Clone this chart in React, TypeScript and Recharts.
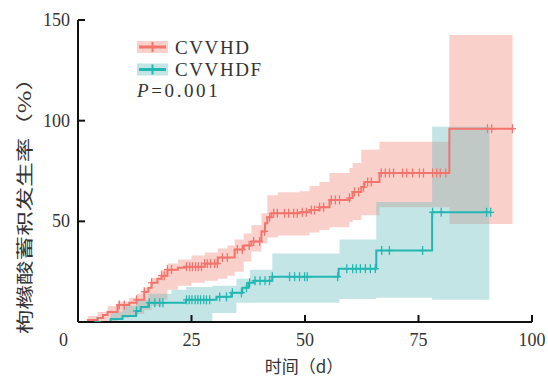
import React from "react"
import { ComposedChart, Area, Line, Scatter, XAxis, YAxis, Label } from "recharts"

// CVVHD: step curve, censor times, confidence band
const redStepX = [0, 2.2, 4.3, 5.5, 6.5, 8.7, 11.3, 12.9, 14.6, 15.5, 16.2, 17.5, 18.4, 19.7, 22, 23.5, 27.9, 30.8, 34.5, 36.5, 38.2, 40.4, 41.2, 41.7, 42.6, 48.8, 51, 53.2, 55.4, 59.8, 60.5, 62.4, 63.1, 66.4, 81.8, 95.7]
const redStepY = [0, 1, 2, 3.5, 5, 8.5, 9.5, 11, 15, 17, 19.5, 21.5, 23, 26, 27, 27.5, 29, 32, 36, 38, 40, 45, 49, 52, 54, 54.5, 55.6, 57, 60.6, 61.6, 64.6, 67, 69.5, 74, 96, 96]
const redCensor = [9.1, 10.2, 12.9, 14.6, 16.2, 18.4, 19, 19.7, 20.6, 23.9, 24.6, 25.2, 25.9, 26.5, 27.2, 27.9, 28.5, 29.2, 30.1, 30.7, 31.8, 32.9, 35.1, 36.2, 37.7, 38.7, 40, 41.1, 42.2, 43.1, 43.9, 45.5, 46.4, 47.5, 48.3, 49.4, 50.3, 51.4, 52.1, 53.2, 54.1, 55.8, 56.7, 57.6, 59.8, 60.9, 61.8, 62.9, 63.8, 64.6, 66.8, 67.7, 68.6, 69.5, 71.5, 72.4, 73.7, 75.2, 76.1, 78.1, 79, 79.8, 81, 90.2, 91.1, 95.7]
const redBandX = [0, 2.2, 4.3, 6.5, 8.7, 11.3, 12.9, 14.6, 16.2, 18.4, 19.7, 22, 25, 27.9, 30.8, 32.9, 34.5, 36.5, 38.2, 40.4, 41.7, 44, 48.8, 51, 53.2, 55.4, 59.8, 60.5, 62.4, 66.4, 81.8, 95.7]
const redBandLo = [0, 0, 0, 0.5, 2, 3, 4, 6, 8, 11, 16, 18, 19.5, 20.5, 21.5, 23, 25, 30, 35, 39, 42, 43, 43, 44.5, 45.7, 47, 49.7, 50.7, 53, 57, 48.7, 48.7]
const redBandHi = [0, 3, 5, 8, 10, 12, 14, 17, 22, 26, 29, 31, 33, 34.5, 36.5, 38, 41, 44, 48, 54, 63, 64.5, 65, 67.5, 69.5, 74, 76.5, 79, 85.5, 89.5, 142.6, 142.6]

// CVVHDF
const tealStepX = [0, 7.2, 9.8, 12.8, 13.8, 15.5, 23.8, 30.5, 33.8, 36.2, 37.5, 38.8, 42.8, 57.4, 65.7, 78, 90.6]
const tealStepY = [0, 1.5, 3, 5.5, 7.5, 9.5, 11, 12.5, 14.5, 17, 19.5, 20.5, 22.5, 26.5, 35.5, 54.5, 54.5]
const tealCensor = [4.3, 12.9, 15.7, 16.9, 18, 18.7, 23.9, 24.5, 25.1, 25.8, 26.4, 27, 27.7, 28.3, 29, 31.2, 32.7, 34, 36, 37.1, 37.8, 39, 40.1, 41.2, 42.2, 42.8, 46.6, 47.7, 48.8, 49.9, 50.5, 57.2, 59.2, 60.5, 61.3, 62.2, 63.3, 64.4, 65.5, 66.9, 68.6, 75.9, 78.1, 80, 90, 90.9]
const tealBandX = [0, 7.2, 9.8, 12.8, 15.5, 20.6, 23.8, 29.6, 34.9, 37.9, 42.8, 57.6, 65.7, 78, 90.6]
const tealBandLo = [0, 0, 0, 0.5, 0.5, 0.5, 0.5, 4.5, 9.5, 9.5, 9.5, 11.4, 12, 11, 11]
const tealBandHi = [0, 5, 8, 11, 14, 16, 17.4, 18, 21.5, 26, 34, 41, 59.6, 97, 97]

const xTicks = [0, 25, 50, 75, 100]
const yTicks = [50, 100, 150]

const RED = "#F3746C"
const RED_FILL = "#FAD0CB"
const TEAL = "#22B7B2"
const TEAL_FILL = "#6CBEC1"
const SERIF = "'Liberation Serif', 'Times New Roman', serif"
const CJK = "'Noto Sans CJK SC', sans-serif"

// value of a step curve at time t (last step at or before t)
function stepAt(xs: number[], ys: number[], t: number) {
  let v = ys[0]
  for (let i = 0; i < xs.length; i++) if (xs[i] <= t) v = ys[i]
  return v
}

const redLine = redStepX.map((x, i) => ({ x, y: redStepY[i] }))
const tealLine = tealStepX.map((x, i) => ({ x, y: tealStepY[i] }))
const redBand = redBandX.map((x, i) => ({ x, band: [redBandLo[i], redBandHi[i]] }))
const tealBand = tealBandX.map((x, i) => ({ x, band: [tealBandLo[i], tealBandHi[i]] }))
const redMarks = redCensor.map((x) => ({ x, y: stepAt(redStepX, redStepY, x) }))
const tealMarks = tealCensor.map((x) => ({ x, y: stepAt(tealStepX, tealStepY, x) }))

const plus = (color: string) => (p: any) => (
  <g stroke={color} strokeWidth={1.3}>
    <line x1={p.cx - 3.5} y1={p.cy} x2={p.cx + 3.5} y2={p.cy} />
    <line x1={p.cx} y1={p.cy - 4.5} x2={p.cx} y2={p.cy + 4.5} />
  </g>
)

const XTick = ({ x, y, payload }: any) => (
  <g>
    <line x1={x} y1={y} x2={x} y2={y - 7} stroke="#111" strokeWidth={2} />
    <text x={payload.value === 0 ? x - 14.5 : x} y={y + 24} textAnchor="middle" fontSize={18} fontFamily={SERIF} fill="#333">
      {payload.value}
    </text>
  </g>
)

const YTick = ({ x, y, payload }: any) => (
  <g>
    <line x1={x} y1={y} x2={x + 7} y2={y} stroke="#111" strokeWidth={2} />
    <text x={x - 8} y={y + 6} textAnchor="end" fontSize={18} fontFamily={SERIF} fill="#333">
      {payload.value}
    </text>
  </g>
)

const YTitle = () => (
  <text
    transform="translate(31,200) rotate(-90)"
    textAnchor="middle"
    fontSize={17}
    fontFamily={CJK}
    fill="#333"
    textLength={268}
    lengthAdjust="spacingAndGlyphs"
  >
    枸橼酸蓄积发生率（%）
  </text>
)

const XTitle = () => (
  <text x={304} y={373} textAnchor="middle" fontSize={17} fontFamily={CJK} fill="#333">
    时间（d）
  </text>
)

function LegendKey({ y, color, fill }: { y: number; color: string; fill: string }) {
  return (
    <g>
      <rect x={137} y={y - 6} width={31} height={12} fill={fill} />
      <line x1={139} y1={y} x2={166} y2={y} stroke={color} strokeWidth={3} />
      <line x1={152.5} y1={y - 5} x2={152.5} y2={y + 5} stroke={color} strokeWidth={2} />
    </g>
  )
}

export default function App() {
  return (
    <div style={{ position: "absolute", left: 0, top: 0, width: 548, height: 378, background: "#fff" }}>
      <ComposedChart width={548} height={378} margin={{ top: 20, right: 16, bottom: 0, left: 0 }}>
        <XAxis
          type="number"
          dataKey="x"
          domain={[0, 100]}
          ticks={xTicks}
          interval={0}
          height={56}
          tickSize={0}
          tickMargin={0}
          tickLine={false}
          tick={<XTick />}
          axisLine={{ stroke: "#111", strokeWidth: 2 }}
          allowDataOverflow
        >
          <Label content={<XTitle />} />
        </XAxis>
        <YAxis
          type="number"
          domain={[0, 150]}
          ticks={yTicks}
          interval={0}
          width={78}
          tickSize={0}
          tickMargin={0}
          tickLine={false}
          tick={<YTick />}
          axisLine={{ stroke: "#111", strokeWidth: 2 }}
          allowDataOverflow
        >
          <Label content={<YTitle />} />
        </YAxis>
        <Area data={redBand} dataKey="band" type="stepAfter" stroke="none" fill={RED_FILL} fillOpacity={1} isAnimationActive={false} />
        <Area data={tealBand} dataKey="band" type="stepAfter" stroke="none" fill={TEAL_FILL} fillOpacity={0.4} isAnimationActive={false} />
        <Line data={redLine} dataKey="y" type="stepAfter" stroke={RED} strokeWidth={2} dot={false} isAnimationActive={false} />
        <Line data={tealLine} dataKey="y" type="stepAfter" stroke={TEAL} strokeWidth={2} dot={false} isAnimationActive={false} />
        <Scatter data={redMarks} dataKey="y" shape={plus(RED)} isAnimationActive={false} />
        <Scatter data={tealMarks} dataKey="y" shape={plus(TEAL)} isAnimationActive={false} />
      </ComposedChart>
      <svg width={548} height={378} style={{ position: "absolute", left: 0, top: 0, pointerEvents: "none" }}>
        <LegendKey y={47} color={RED} fill={RED_FILL} />
        <LegendKey y={69.5} color={TEAL} fill="#C4E5E6" />
        <text x={175} y={54} fontSize={19} fontFamily={SERIF} fill="#333" letterSpacing={1.6}>CVVHD</text>
        <text x={175} y={76} fontSize={19} fontFamily={SERIF} fill="#333" letterSpacing={1.6}>CVVHDF</text>
        <text x={137} y={97} fontSize={19} fontFamily={SERIF} fill="#333" letterSpacing={2.6}>
          <tspan fontStyle="italic">P</tspan>=0.001
        </text>
      </svg>
    </div>
  )
}
